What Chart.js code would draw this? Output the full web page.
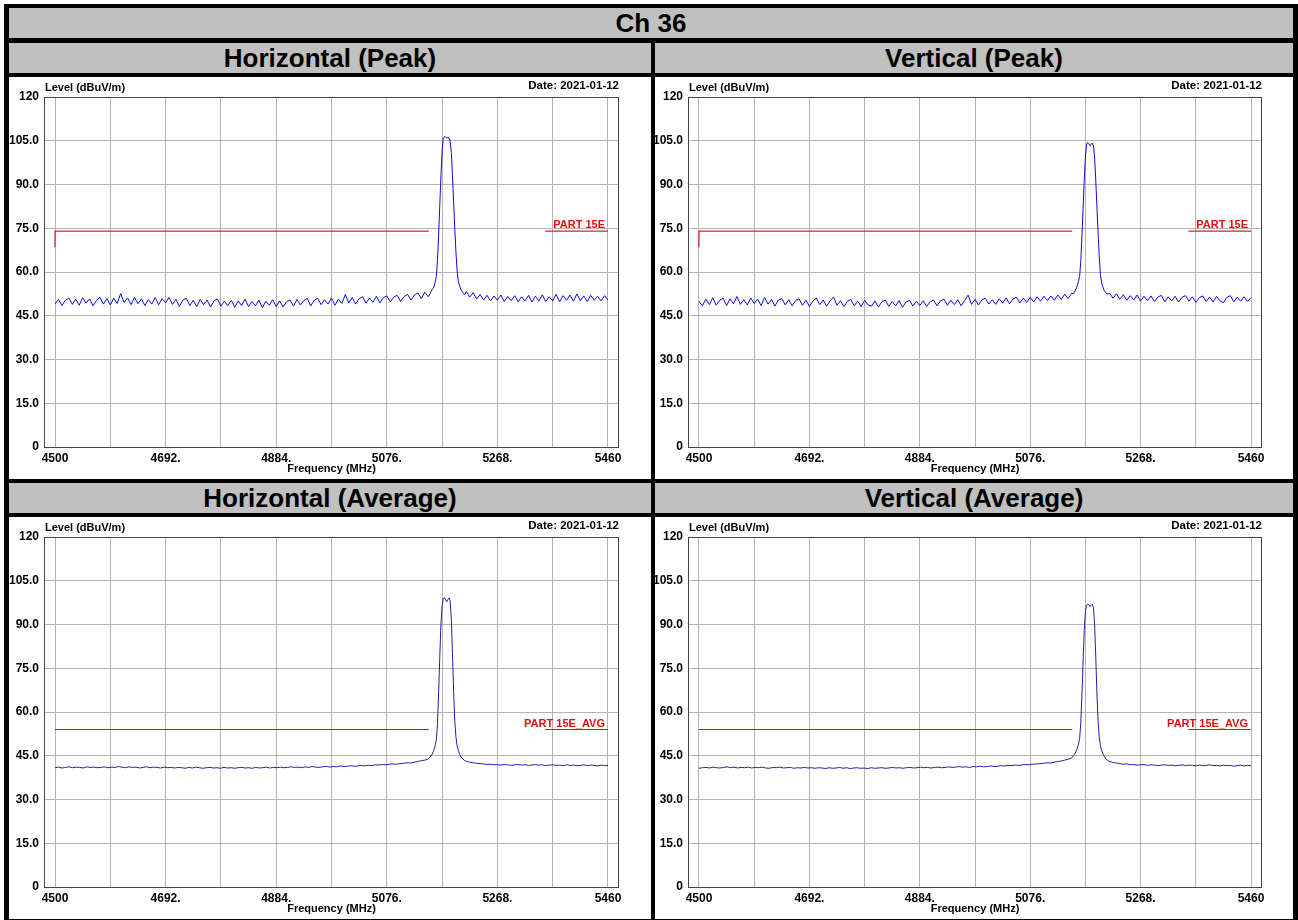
<!DOCTYPE html>
<html><head><meta charset="utf-8">
<script src="https://cdn.jsdelivr.net/npm/chart.js@4.4.1/dist/chart.umd.min.js"></script>
<style>
html,body{margin:0;padding:0;background:#fff;width:1298px;height:920px;overflow:hidden;}
#frame{position:absolute;left:4px;top:4px;width:1294px;height:916px;background:#000;}
.band{position:absolute;background:#c0c0c0;font:bold 26px "Liberation Sans",Arial,sans-serif;color:#000;text-align:center;line-height:30px;height:30px;white-space:nowrap;}
.cell{position:absolute;background:#fff;}
canvas{display:block;}
</style></head><body>
<div id="frame"></div>
<div class="band" style="left:9px;top:8px;width:1284px;">Ch 36</div>
<div class="band" style="left:9px;top:43px;width:642px;">Horizontal (Peak)</div>
<div class="band" style="left:655px;top:43px;width:638px;">Vertical (Peak)</div>
<div class="cell" style="left:9px;top:77px;width:642px;height:402px;"><canvas id="c1" width="642" height="402"></canvas></div>
<div class="cell" style="left:655px;top:77px;width:638px;height:402px;"><canvas id="c2" width="638" height="402"></canvas></div>
<div class="band" style="left:9px;top:483px;width:642px;">Horizontal (Average)</div>
<div class="band" style="left:655px;top:483px;width:638px;">Vertical (Average)</div>
<div class="cell" style="left:9px;top:517px;width:642px;height:402px;"><canvas id="c3" width="642" height="402"></canvas></div>
<div class="cell" style="left:655px;top:517px;width:638px;height:402px;"><canvas id="c4" width="638" height="402"></canvas></div>
<script>
// ---- axis ticks ----
const freqGrid = [4500,4596,4692,4788,4884,4980,5076,5172,5268,5364,5460];
const freqLabels = ['4500','','4692.','','4884.','','5076.','','5268.','','5460'];
const levelTicks = [0,15,30,45,60,75,90,105,120];
const levelLabels = ['0','15.0','30.0','45.0','60.0','75.0','90.0','105.0','120'];
const dateText = 'Date: 2021-01-12';
const yTitle = 'Level (dBuV/m)';
const xTitle = 'Frequency (MHz)';

// ---- sweep segments (MHz) ----
const lowBand = [4500, 5148];
const highBand = [5214, 5460];
const peakFreqs = [5151,5154,5157,5160,5162,5164,5166,5168,5170,5172,5174,5176,5178,5180,5182,5184,5186,5188,5190,5192,5194,5196,5198,5200,5202,5205,5208,5211];

// ---- Horizontal (Peak) ----
const hPeakLow = [49.0,50.6,48.5,50.3,51.1,48.9,50.7,48.6,51.2,49.3,50.8,48.4,50.2,51.4,49.0,50.9,48.7,
51.0,49.2,52.6,49.5,51.1,48.8,51.3,49.1,50.8,48.5,50.6,49.0,51.2,48.8,50.9,49.4,51.3,
48.9,50.7,48.2,50.4,51.0,48.5,50.3,48.1,50.6,48.8,50.4,48.0,50.1,50.8,48.3,50.0,48.4,
50.3,47.9,50.1,48.5,50.7,48.1,49.9,48.4,50.4,47.8,50.0,48.6,50.5,48.2,50.1,48.0,49.8,
50.4,48.3,50.6,48.7,50.2,50.9,48.4,50.3,51.0,48.8,50.5,49.0,51.1,48.6,50.7,49.2,52.3,
49.4,51.3,49.0,50.9,51.5,49.3,51.1,49.6,51.7,49.4,51.2,51.8,49.7,51.4,52.0,49.9,51.6,
52.3,50.4,52.1,52.8,50.9,53.1,51.5];
const hPeakMid = [52.5,53.8,54.5,56.5,58.5,64,73,83,93,101.5,105.8,106.4,106.2,105.9,106.3,106.0,104.8,101,93,84,75,67,60.5,57,55.5,53.8,53.0,52.2];
const hPeakHigh = [53.3,51.4,52.9,50.7,52.3,50.4,52.0,50.1,51.8,50.3,52.1,49.9,51.6,50.2,51.9,49.8,51.5,50.1,52.0,49.7,51.7,50.0,52.2,49.9,51.5,50.1,52.4,49.8,51.9,50.3,52.1,50.0,52.5,50.2,51.8,49.9,52.0,50.3,51.7,50.1,51.9,50.4];

// ---- Vertical (Peak) ----
const vPeakLow = [49.9,48.4,50.7,48.8,51.2,48.6,50.3,51.0,48.5,50.8,49.1,51.6,48.9,50.5,48.7,51.1,49.2,
50.7,48.5,51.3,49.0,50.6,48.3,50.4,50.9,48.7,50.5,48.4,50.2,50.8,48.6,50.3,48.2,50.0,
51.1,48.8,50.4,48.3,50.1,51.4,48.6,50.2,48.1,49.9,50.6,48.4,50.0,48.2,50.3,48.7,48.3,
50.1,48.0,49.8,50.4,48.2,49.9,48.4,50.2,47.9,49.7,50.3,48.3,50.0,48.5,50.1,48.2,49.8,
50.4,48.4,50.1,50.7,48.6,50.3,48.8,50.5,48.4,50.2,52.1,48.9,50.6,48.7,50.4,51.0,49.0,
50.5,48.9,50.8,49.3,51.1,49.1,50.7,51.4,49.4,51.0,49.6,51.3,49.8,51.5,50.0,51.7,50.2,
51.8,50.3,52.1,50.6,52.4,50.9,52.7];
const vPeakMid = [52.6,53.5,54.8,56.8,58.5,64,72.5,82,91.5,99.5,103.6,104.4,104.0,103.3,103.8,104.2,103.2,99.5,91.5,82.5,73.5,65.5,59.5,56.5,55,53.5,52.8,52.4];
const vPeakHigh = [52.8,51.0,52.5,50.6,52.2,50.3,51.9,50.4,52.1,50.0,51.7,50.2,51.8,49.9,51.4,52.0,49.8,51.5,50.1,51.7,49.7,51.3,51.9,50.0,51.5,49.6,51.2,51.8,49.9,51.4,49.7,51.6,50.1,49.5,51.3,51.9,49.8,51.4,50.0,51.5,49.9,51.2];

// ---- Horizontal (Average) ----
const hAvgLow = [40.9,41.1,40.8,41.0,41.2,40.9,41.1,41.0,40.8,41.2,41.0,41.1,40.9,41.0,41.2,40.9,41.1,
41.0,41.3,41.1,40.9,41.2,41.0,41.1,40.8,41.0,41.2,40.9,41.1,41.0,40.8,41.1,40.9,41.0,
40.8,41.0,40.9,40.7,41.0,40.8,41.1,40.9,40.7,40.9,41.0,40.8,40.9,40.7,41.0,40.8,40.9,
40.7,40.9,41.0,40.8,40.9,40.7,41.0,40.8,40.9,41.1,40.8,41.0,40.9,41.1,40.9,41.0,
41.2,41.0,41.1,40.9,41.2,41.0,41.3,41.1,41.0,41.2,41.4,41.1,41.3,41.2,41.5,41.3,
41.4,41.6,41.4,41.5,41.7,41.5,41.8,41.6,41.9,41.8,42.0,41.9,42.1,42.2,42.1,
42.3,42.4,42.6,42.5,42.8,43.0,43.3,43.5,43.9];
const hAvgMid = [44.5,45.3,46.5,48.5,50.5,56,67,79,90,96.5,98.8,99.2,98.6,97.8,98.5,99.1,98.2,92,80,67,57,51.5,48.5,47,45.8,44.6,43.9,43.4];
const hAvgHigh = [43.1,42.8,42.6,42.4,42.3,42.2,42.0,42.1,41.9,42.0,41.8,42.0,41.9,41.7,41.9,42.0,41.8,41.9,41.7,41.8,42.0,41.8,41.9,41.6,41.8,41.9,41.7,41.8,41.6,41.9,41.7,41.8,41.6,41.7,41.9,41.6,41.8,41.7,41.5,41.8,41.6,41.7];

// ---- Vertical (Average) ----
const vAvgLow = [40.7,40.9,41.0,40.8,41.1,40.9,40.8,41.0,41.2,40.9,41.1,40.8,41.0,40.9,41.1,40.8,41.0,
40.9,41.1,40.8,40.7,41.0,40.9,41.1,40.8,40.9,41.0,40.7,40.9,40.8,41.0,40.8,40.9,40.7,
40.9,40.8,40.6,40.9,40.7,40.8,41.0,40.7,40.9,40.6,40.8,40.9,40.7,40.8,40.6,40.9,40.7,
40.8,40.9,40.7,40.8,41.0,40.8,40.9,40.7,40.9,41.0,40.8,40.9,41.1,40.9,41.0,40.8,
41.0,41.1,40.9,41.0,41.2,41.0,41.1,41.3,41.1,41.2,41.0,41.3,41.2,41.4,41.2,41.3,
41.5,41.3,41.4,41.6,41.5,41.7,41.6,41.8,41.7,41.9,42.0,41.9,42.1,42.2,42.3,
42.4,42.6,42.5,42.8,43.0,43.2,43.5,43.8,44.2];
const vAvgMid = [45.0,45.8,47.0,49.0,51.0,56.5,66,77.5,88,94.5,96.6,97.0,96.8,96.2,96.5,96.9,95.8,90,79,66.5,57,51.5,48.6,47,45.9,44.7,43.9,43.3];
const vAvgHigh = [43.0,42.7,42.5,42.3,42.1,42.2,41.9,42.0,41.8,41.9,42.0,41.7,41.9,41.8,41.6,41.8,41.9,41.7,41.8,41.6,41.7,41.9,41.6,41.8,41.7,41.5,41.8,41.6,41.7,41.9,41.6,41.7,41.5,41.8,41.6,41.7,41.4,41.6,41.8,41.5,41.7,41.6];

// ---- limit lines ----
const peakLimit = 74;
const avgLimit = 54;
const peakLimitStart = 68.5;
const limitBreak = [5149, 5351];
const peakLimitLabel = 'PART 15E';
const avgLimitLabel = 'PART 15E_AVG';

function buildTrace(low, mid, high) {
  const pts = [];
  low.forEach((v, i) => pts.push({x: lowBand[0] + i * (lowBand[1] - lowBand[0]) / (low.length - 1), y: v}));
  mid.forEach((v, i) => pts.push({x: peakFreqs[i], y: v}));
  high.forEach((v, i) => pts.push({x: highBand[0] + i * (highBand[1] - highBand[0]) / (high.length - 1), y: v}));
  return pts;
}
function buildLimit(level, startLevel) {
  const pts = [];
  if (startLevel != null) pts.push({x: freqGrid[0], y: startLevel});
  pts.push({x: freqGrid[0], y: level}, {x: limitBreak[0], y: level}, {x: (limitBreak[0] + limitBreak[1]) / 2, y: null},
           {x: limitBreak[1], y: level}, {x: freqGrid[freqGrid.length - 1], y: level});
  return pts;
}

const FONT = '"Liberation Sans", Arial, sans-serif';
Chart.defaults.font.family = FONT;

const decor = {
  id: 'decor',
  afterDraw(chart, args, opts) {
    const {ctx, chartArea: a, scales: {x, y}} = chart;
    ctx.save();
    ctx.font = 'bold 11px ' + FONT;
    ctx.fillStyle = '#e01010';
    ctx.textAlign = 'right';
    ctx.textBaseline = 'alphabetic';
    ctx.fillText(opts.label, x.getPixelForValue(freqGrid[freqGrid.length - 1]) - 3, y.getPixelForValue(opts.limit) - 3);
    ctx.fillStyle = '#000';
    ctx.textAlign = 'left';
    ctx.fillText(yTitle, a.left + 1, a.top - 6);
    ctx.font = 'bold 11.5px ' + FONT;
    ctx.textAlign = 'right';
    ctx.fillText(dateText, a.right, a.top - 8);
    ctx.strokeStyle = '#444';
    ctx.lineWidth = 1;
    ctx.strokeRect(Math.round(a.left) + 0.5, Math.round(a.top) + 0.5, Math.round(a.right - a.left) - 1, Math.round(a.bottom - a.top));
    ctx.restore();
  }
};

function makeChart(id, trace, limit, opts) {
  new Chart(document.getElementById(id), {
    type: 'line',
    data: {datasets: [
      {data: trace, borderColor: opts.traceColor, borderWidth: 1, pointRadius: 0, tension: 0, fill: false},
      {data: limit, borderColor: opts.limitColor, borderWidth: 1.2, pointRadius: 0, tension: 0, fill: false, spanGaps: false}
    ]},
    options: {
      responsive: false, animation: false, events: [],
      layout: {padding: {left: 0, top: 20, right: opts.right, bottom: 0}},
      plugins: {legend: {display: false}, tooltip: {enabled: false},
        decor: {label: opts.label, limit: opts.limit}},
      scales: {
        x: {type: 'linear', min: 4480.9, max: 5479.1,
          afterBuildTicks: s => { s.ticks = freqGrid.map(v => ({value: v})); },
          afterFit: s => { s.height = 32; },
          grid: {color: '#b4b4b4', lineWidth: 1, drawTicks: false},
          border: {display: false},
          ticks: {autoSkip: false, maxRotation: 0, padding: 4, color: '#000', font: {size: 12, weight: 'bold'},
            callback: (v, i) => freqLabels[i]},
          title: {display: true, text: xTitle, color: '#000', font: {size: 11, weight: 'bold'}, padding: {top: 0, bottom: 3}}
        },
        y: {type: 'linear', min: 0, max: 120,
          afterBuildTicks: s => { s.ticks = levelTicks.map(v => ({value: v})); },
          afterFit: s => { s.width = opts.left; },
          grid: {color: '#b4b4b4', lineWidth: 1, drawTicks: false},
          border: {display: false},
          ticks: {padding: 5, color: '#000', font: {size: 12, weight: 'bold'}, callback: (v, i) => levelLabels[i]}
        }
      }
    },
    plugins: [decor]
  });
}

const peakBlue = '#0d0dd0', avgBlue = '#2020a8';
makeChart('c1', buildTrace(hPeakLow, hPeakMid, hPeakHigh), buildLimit(peakLimit, peakLimitStart),
  {traceColor: peakBlue, limitColor: '#dd2020', label: peakLimitLabel, limit: peakLimit, left: 35, right: 32});
makeChart('c2', buildTrace(vPeakLow, vPeakMid, vPeakHigh), buildLimit(peakLimit, peakLimitStart),
  {traceColor: peakBlue, limitColor: '#dd2020', label: peakLimitLabel, limit: peakLimit, left: 33, right: 31});
makeChart('c3', buildTrace(hAvgLow, hAvgMid, hAvgHigh), buildLimit(avgLimit, null),
  {traceColor: avgBlue, limitColor: '#c41c1c', label: avgLimitLabel, limit: avgLimit, left: 35, right: 32});
makeChart('c4', buildTrace(vAvgLow, vAvgMid, vAvgHigh), buildLimit(avgLimit, null),
  {traceColor: avgBlue, limitColor: '#c41c1c', label: avgLimitLabel, limit: avgLimit, left: 33, right: 31});
</script>
</body></html>
